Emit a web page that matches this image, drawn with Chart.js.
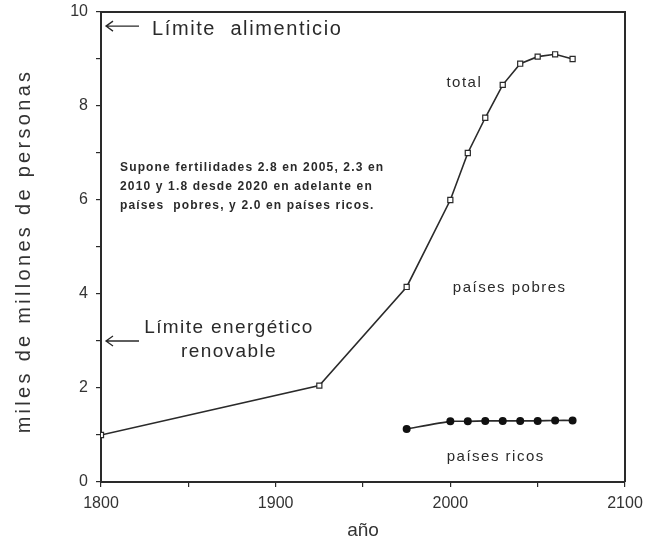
<!DOCTYPE html>
<html>
<head>
<meta charset="utf-8">
<script src="https://cdn.jsdelivr.net/npm/chart.js@4"></script>
<style>
  html, body { margin: 0; padding: 0; background: #fff; }
  #wrap { width: 646px; height: 546px; }
</style>
</head>
<body>
<div id="wrap"><canvas id="myChart"></canvas></div>
<script>
const totalYears = [1800, 1925, 1975, 2000, 2010, 2020, 2030, 2040, 2050, 2060, 2070];
const totalValues = [1.0, 2.05, 4.15, 6.0, 7.0, 7.75, 8.45, 8.9, 9.05, 9.1, 9.0];
const richYears = [1975, 2000, 2010, 2020, 2030, 2040, 2050, 2060, 2070];
const richValues = [1.13, 1.29, 1.29, 1.3, 1.3, 1.3, 1.3, 1.31, 1.31];
const limitFood = 9.7;
const limitEnergy = 3.0;

const ink = '#2a2a2a';
const fontName = '"Liberation Sans", Arial, sans-serif';

function spaced(c, txt, x, y, sp) {
    c.letterSpacing = sp + 'px';
    c.fillText(txt, x, y);
    c.letterSpacing = '0px';
}

// marcos, flechas y textos
const notes = {
    id: 'notes',
    afterDraw(chart) {
        const c = chart.ctx;
        const a = chart.chartArea;
        const x = chart.scales.x, y = chart.scales.y;
        c.save();
        c.strokeStyle = ink;
        c.lineWidth = 2;
        c.beginPath();
        c.moveTo(a.left, a.top);
        c.lineTo(a.right, a.top);
        c.lineTo(a.right, a.bottom);
        c.stroke();

        // flechas
        c.lineWidth = 1.3;
        [limitFood, limitEnergy].forEach(v => {
            const py = y.getPixelForValue(v);
            c.beginPath();
            c.moveTo(a.left + 38, py);
            c.lineTo(a.left + 5, py);
            c.moveTo(a.left + 12, py - 5);
            c.lineTo(a.left + 5, py);
            c.lineTo(a.left + 12, py + 5);
            c.stroke();
        });

        c.fillStyle = ink;
        c.textBaseline = 'middle';
        c.textAlign = 'left';
        c.font = '20px ' + fontName;
        spaced(c, 'Límite  alimenticio', a.left + 51, y.getPixelForValue(limitFood) + 3, 1.6);

        c.textAlign = 'center';
        c.font = '19px ' + fontName;
        const ex = a.left + 128, ey = y.getPixelForValue(limitEnergy);
        spaced(c, 'Límite energético', ex, ey - 13, 1.4);
        spaced(c, 'renovable', ex, ey + 11, 1.4);

        c.font = '15px ' + fontName;
        spaced(c, 'total', x.getPixelForValue(2008), y.getPixelForValue(8.5), 1.5);
        spaced(c, 'países pobres', x.getPixelForValue(2034), y.getPixelForValue(4.13), 1.5);
        spaced(c, 'países ricos', x.getPixelForValue(2026), y.getPixelForValue(0.53), 1.5);

        c.textAlign = 'left';
        c.font = 'bold 12px ' + fontName;
        const nx = a.left + 19;
        spaced(c, 'Supone fertilidades 2.8 en 2005, 2.3 en', nx, 168, 1.15);
        spaced(c, '2010 y 1.8 desde 2020 en adelante en', nx, 187, 1.15);
        spaced(c, 'países  pobres, y 2.0 en países ricos.', nx, 206, 1.15);

        // título eje y
        c.save();
        c.translate(24, 251);
        c.rotate(-Math.PI / 2);
        c.textAlign = 'center';
        c.font = '20px ' + fontName;
        c.fillStyle = '#333';
        spaced(c, 'miles de millones de personas', 0, 0, 3.3);
        c.restore();
        c.restore();
    }
};

new Chart(document.getElementById('myChart'), {
    type: 'line',
    data: {
        datasets: [
            {
                label: 'total',
                data: totalYears.map((yr, i) => ({x: yr, y: totalValues[i]})),
                borderColor: ink,
                borderWidth: 1.6,
                pointStyle: 'rect',
                pointRadius: 3.6,
                pointBackgroundColor: '#fff',
                pointBorderColor: ink,
                pointBorderWidth: 1.2,
                tension: 0
            },
            {
                label: 'países ricos',
                data: richYears.map((yr, i) => ({x: yr, y: richValues[i]})),
                borderColor: ink,
                borderWidth: 1.6,
                pointStyle: 'circle',
                pointRadius: 3.2,
                pointBackgroundColor: '#111',
                pointBorderColor: '#111',
                tension: 0.2
            }
        ]
    },
    options: {
        responsive: true,
        maintainAspectRatio: false,
        animation: false,
        layout: { padding: { top: 12, right: 21, left: 0, bottom: 0 } },
        scales: {
            x: {
                type: 'linear',
                min: 1800,
                max: 2100,
                afterFit: s => { s.height = 64; s.paddingLeft = 0; s.paddingRight = 0; },
                border: { display: true, color: ink, width: 2 },
                grid: { drawOnChartArea: false, drawTicks: true, tickLength: 5, color: ink, lineWidth: 1.2 },
                ticks: {
                    stepSize: 50,
                    color: '#333',
                    font: { family: fontName, size: 16 },
                    padding: 7,
                    maxRotation: 0,
                    autoSkip: false,
                    callback: v => (v % 100 === 0 ? String(v) : '')
                },
                title: {
                    display: true,
                    text: 'año',
                    color: '#333',
                    font: { family: fontName, size: 19 },
                    padding: { top: 2 }
                }
            },
            y: {
                min: 0,
                max: 10,
                afterFit: s => { s.width = 101; s.paddingTop = 0; s.paddingBottom = 0; },
                border: { display: true, color: ink, width: 2 },
                grid: { drawOnChartArea: false, drawTicks: true, tickLength: 5, color: ink, lineWidth: 1.2 },
                ticks: {
                    stepSize: 1,
                    color: '#333',
                    font: { family: fontName, size: 16 },
                    padding: 8,
                    autoSkip: false,
                    callback: v => (v % 2 === 0 ? String(v) : '')
                },
                title: { display: false }
            }
        },
        plugins: {
            legend: { display: false },
            tooltip: { enabled: false }
        }
    },
    plugins: [notes]
});
</script>
</body>
</html>
